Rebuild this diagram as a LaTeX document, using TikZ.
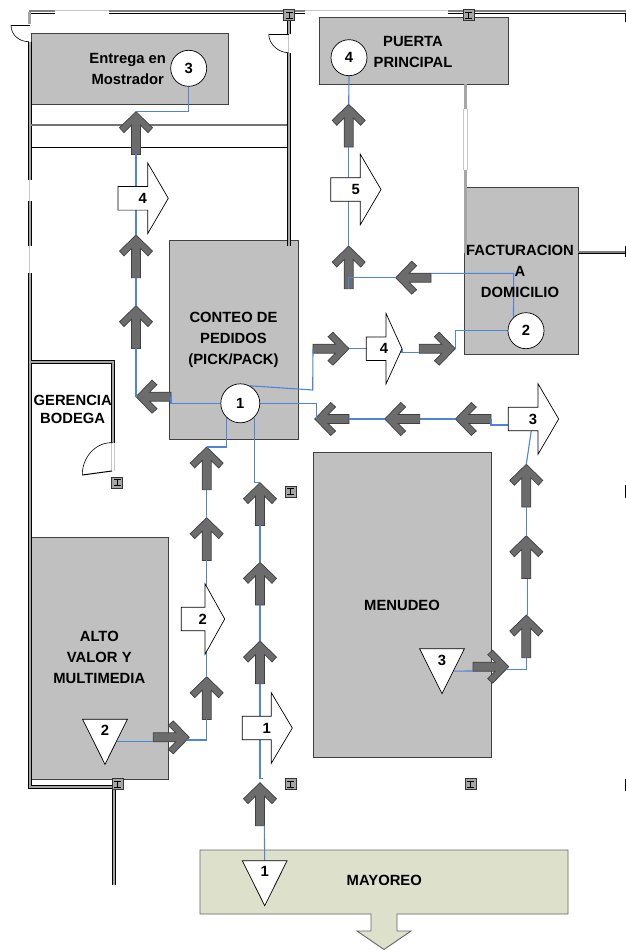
\documentclass[tikz,border=0pt]{standalone}
\usepackage{fontspec}
\setmainfont{Liberation Sans}
\pgfdeclarelayer{rooms}\pgfdeclarelayer{flows}\pgfdeclarelayer{links}
\pgfsetlayers{rooms,flows,links,main}
\definecolor{roomgray}{HTML}{C0C0C0}
\definecolor{yardgreen}{HTML}{DDE1CC}
\definecolor{flowgray}{HTML}{6C6C6C}
\definecolor{linkblue}{HTML}{4F84DC}
\tikzset{
  room/.style={draw=black!75,line width=.8pt,fill=roomgray},
  yard/.style={draw=black!60,line width=.9pt,fill=yardgreen},
  flowshape/.style={draw=black!75,line width=.7pt,fill=flowgray,line join=miter},
  link/.style={draw=linkblue,line width=1.1pt},
  wall/.style={draw=black,double=black!35,line width=.6pt,double distance=2.4pt},
  window/.style={draw=black!22,line width=.7pt},
  door/.style={draw=black,line width=.6pt},
  stop/.style={circle,draw=black,line width=.7pt,fill=white,inner sep=0pt,font=\bfseries\fontsize{14.8}{16}\selectfont},
  whitearrow/.style={draw=black,line width=.7pt,fill=white},
  num/.style={inner sep=0pt,font=\bfseries\fontsize{14.8}{16}\selectfont},
  roomtext/.style={inner sep=0pt,align=center,font=\bfseries\fontsize{14.8}{21}\selectfont},
}
% name, position, rotation, length
\newcommand\flowarrow[4]{%
  \begin{pgfonlayer}{flows}
  \begin{scope}[shift={(#2)},rotate=#3]
    \draw[flowshape] (0,0)--(16.5,16)--(12,21)--(4.5,13.5)--(4.5,#4)--(-4.5,#4)--(-4.5,13.5)--(-12,21)--(-16.5,16)--cycle;
    \coordinate (#1-tip) at (0,0);
    \coordinate (#1-tail) at (0,#4);
  \end{scope}
  \end{pgfonlayer}}
% name, x0, cy, neck x, tip x, number x, number
\newcommand\bigarrow[7]{%
  \draw[whitearrow] (#2,#3-11.8)--(#4,#3-11.8)--(#4,#3-35.3)--(#5,#3)--(#4,#3+35.3)--(#4,#3+11.8)--(#2,#3+11.8)--cycle;
  \node[num] (#1) at (#6,#3) {#7};}
% name, top-centre x, top y, number y, number
\newcommand\tristop[5]{%
  \draw[whitearrow] (#2-22.4,#3)--(#2+22.4,#3)--(#2,#3+45)--cycle;
  \coordinate (#1-top) at (#2,#3);
  \coordinate (#1-side) at (#2+11.7,#3+22.4);
  \node[num] (#1) at (#2,#4) {#5};}
\newcommand\steelcol[2]{%
  \draw[draw=black!80,fill=black!35,line width=.6pt] (#1-5.5,#2-5.5) rectangle (#1+5.5,#2+5.5);
  \draw[black,line width=.9pt] (#1-3.5,#2-3)--(#1+3.5,#2-3) (#1,#2-3)--(#1,#2+3) (#1-3.5,#2+3)--(#1+3.5,#2+3);}
\newcommand\topwall[2]{%
  \draw[black!50,line width=2pt] (#1,11.2)--(#2,11.2);
  \draw[black,line width=.8pt] (#1,13.3)--(#2,13.3);}
\begin{document}
\begin{tikzpicture}[x=1pt,y=-1pt]
\useasboundingbox (0,0) rectangle (626,950);
\begin{pgfonlayer}{rooms}
\fill[white] (0,0) rectangle (626,950);
% windows
\draw[window] (55,10.5)--(109,10.5) (305,10.5)--(447,10.5);
\draw[window] (29.7,246)--(29.7,273) (29.7,180)--(29.7,201);
\draw[window] (463.5,109)--(463.5,170) (467,109)--(467,170);
\draw[window] (111,442.7)--(111,471) (114.4,442.7)--(114.4,471);
\draw[window] (288.7,34)--(288.7,53);
% rooms
\draw[room] (31,33) rectangle (228,104);
\draw[room] (319,17) rectangle (508,84);
\draw[room] (464,187) rectangle (578,354);
\draw[room] (169,240) rectangle (298,439);
\draw[room] (313,452) rectangle (491,757);
\draw[room] (31,537) rectangle (168,779);
\draw[yard] (371,914)--(200,914)--(200,850)--(568,850)--(568,914)--(397,914)--(397,931)--(411,931)--(384,949.5)--(357,931)--(371,931)--cycle;
% walls
\topwall{29}{55}
\draw[wall] (29.6,12)--(29.6,24);
\topwall{109}{305}
\topwall{447.5}{626}
\draw[black,line width=1pt] (625.5,13)--(625.5,22);
\draw[wall] (288.7,20)--(288.7,34);
\draw[wall] (288.7,53)--(288.7,246);
\draw[wall] (29.7,42)--(29.7,180);
\draw[wall] (29.7,201)--(29.7,246);
\draw[wall] (29.7,273)--(29.7,787)--(113.7,787)--(113.7,885);
\draw[black!55,line width=1.4pt] (31,125)--(286.7,125);
\draw[black,line width=.6pt] (31,147.3)--(286.7,147.3);
\draw[wall] (31,361.7)--(112.7,361.7)--(112.7,442.7);
\draw[wall] (465.3,84)--(465.3,109);
\draw[wall] (465.3,170)--(465.3,253);
\draw[black!50,line width=2pt] (578,251.5)--(626,251.5);
\draw[black,line width=.8pt] (578,253.5)--(626,253.5);
\draw[black,line width=1pt] (625.5,246)--(625.5,257);
\draw[black,line width=1pt] (625.5,485)--(625.5,498);
\draw[black,line width=1pt] (625.5,779)--(625.5,791);
% doors
\draw[door] (11,25)--(29.6,25);
\draw[door] (11,25) .. controls (11,35) and (19,41.7) .. (29,41.7);
\draw[door] (268.7,34.3)--(288.7,34.3);
\draw[door] (268.7,34.3) .. controls (269,44) and (278,52.7) .. (288.7,52.7);
\draw[door] (112.7,442.7) .. controls (95,442) and (82,458) .. (82.3,475);
\draw[black,line width=1pt] (82.3,475)--(112,471);
% columns
\steelcol{289}{15}
\steelcol{468.7}{15}
\steelcol{117}{482.3}
\steelcol{290.3}{491.3}
\steelcol{290.3}{784}
\steelcol{470.3}{784}
\steelcol{117.7}{784}
\end{pgfonlayer}

% grey flow arrows
\flowarrow{a1}{136,111.7}{0}{42.7}
\flowarrow{a2}{136,235}{0}{42.7}
\flowarrow{a3}{136,305.7}{0}{42.7}
\flowarrow{a4}{136,396.7}{90}{35}
\flowarrow{b1}{206.7,447}{0}{42.7}
\flowarrow{b2}{206.7,517.7}{0}{42.7}
\flowarrow{b3}{206.7,676.7}{0}{42.7}
\flowarrow{b4}{189.3,737.3}{-90}{36}
\flowarrow{c1}{260,482.7}{0}{42.7}
\flowarrow{c2}{260,562.3}{0}{42.7}
\flowarrow{c3}{260,641}{0}{42.7}
\flowarrow{c4}{260,782.7}{0}{43}
\flowarrow{d1}{349,348.7}{-90}{36}
\flowarrow{d2}{455.3,348.7}{-90}{36}
\flowarrow{e1}{314.7,419}{90}{34.3}
\flowarrow{e2}{384.7,419}{90}{35}
\flowarrow{e3}{455.3,419}{90}{35.7}
\flowarrow{f1}{526.3,464.3}{0}{42.7}
\flowarrow{f2}{526.3,535.7}{0}{42.7}
\flowarrow{f3}{526.3,615}{0}{42.7}
\flowarrow{f4}{508.7,666.7}{-90}{35.7}
\flowarrow{g1}{348.7,104.3}{0}{42.7}
\flowarrow{g2}{348.7,246}{0}{42.7}
\flowarrow{g3}{395.7,277.7}{90}{35.3}

% round stops
\node[stop,minimum size=36pt] (s3) at (188.7,68.3) {3};
\node[stop,minimum size=36pt] (s4) at (349,57.7) {4};
\node[stop,minimum size=39pt] (s1) at (240.3,403.3) {1};
\node[stop,minimum size=36pt] (s2) at (526,330.7) {2};

% triangular stops
\tristop{t2}{105}{719.3}{730}{2}
\tristop{t3}{442}{648.7}{660}{3}
\tristop{t1}{264.7}{860.7}{871.7}{1}

% big white arrows
\bigarrow{w4}{118}{198.3}{147.7}{168.3}{142.7}{4}
\bigarrow{w5}{330.7}{189.5}{360.3}{381}{355.7}{5}
\bigarrow{w2}{181.3}{619}{205}{224.7}{202.7}{2}
\bigarrow{w1}{242.3}{728}{271.3}{292.3}{266.7}{1}
\bigarrow{w3}{508.3}{419}{538}{558.7}{533}{3}
\bigarrow{w6}{366.3}{348.7}{386}{402}{384}{4}

% connectors
\begin{pgfonlayer}{links}
\draw[link] (s3.south) |- (a1-tip);
\draw[link] (a1-tail)--(a2-tip);
\draw[link] (a2-tail)--(a3-tip);
\draw[link] (a3-tail)--(a4-tip);
\draw[link] (a4-tail)--(171,403.3)--(s1.west);
\draw[link] (s1.-133) |- (b1-tip);
\draw[link] (b1-tail)--(b2-tip);
\draw[link] (b2-tail)--(b3-tip);
\draw[link] (b3-tail)--(206.7,740)--(186.7,740);
\draw[link] (t2-side)--(153.3,741.7);
\draw[link] (s1.-46) |- (c1-tip);
\draw[link] (c1-tail)--(c2-tip);
\draw[link] (c2-tail)--(c3-tip);
\draw[link] (c3-tail)--(260,778.3)--(263,778.3);
\draw[link] (264.3,825.7)--(t1-top);
\draw[link] (s1.62) -- (312.7,390) -- (d1-tail);
\draw[link] (d1-tip)--(w6);
\draw[link] (402,348.7)--(402,352.7)--(419.3,352.7);
\draw[link] (d2-tip)--(455.3,330.7)--(s2.west);
\draw[link] (s1.east)--(316.3,403.3)--(316.3,419);
\draw[link] (e1-tail)--(e2-tip);
\draw[link] (e2-tail)--(e3-tip);
\draw[link] (e3-tail)--(491,425)--(508.3,425);
\draw[link] (f1-tip)--(w3);
\draw[link] (f1-tail)--(f2-tip);
\draw[link] (527.3,578.7)--(527.3,615);
\draw[link] (f3-tail)--(526.3,669.3)--(506.3,669.3);
\draw[link] (t3-side)--(473,671);
\draw[link] (s4.south)--(g1-tip);
\draw[link] (g1-tail)--(g2-tip);
\draw[link] (s2.133)--(513.7,273.3)--(431,273.3);
\draw[link] (g3-tip)--(348.7,277.7)--(g2-tail);
\end{pgfonlayer}

% room labels
\node[roomtext] (entrega) at (127.7,68.5) {Entrega en\\Mostrador};
\node[roomtext] (puerta) at (413,52) {PUERTA\\PRINCIPAL};
\node[roomtext] (factura) at (520,271) {FACTURACION\\A\\DOMICILIO};
\node[roomtext] (conteo) at (233.5,340) {CONTEO DE\\PEDIDOS\\(PICK/PACK)};
\node[roomtext,font=\bfseries\fontsize{14.8}{18}\selectfont] (gerencia) at (72.7,409) {GERENCIA\\BODEGA};
\node[roomtext] (menudeo) at (402,605) {MENUDEO};
\node[roomtext] (alto) at (99.3,657) {ALTO\\VALOR Y\\MULTIMEDIA};
\node[roomtext] (mayoreo) at (384.3,880.7) {MAYOREO};
\end{tikzpicture}
\end{document}
